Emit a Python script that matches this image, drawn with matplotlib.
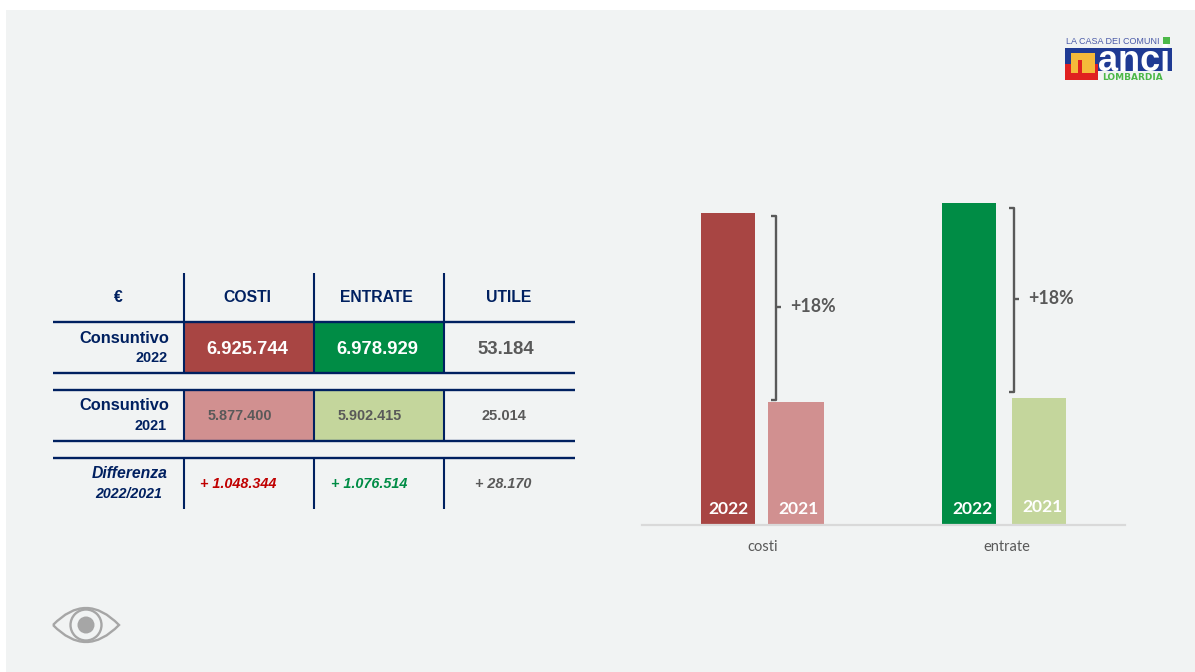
import matplotlib
matplotlib.use("Agg")
import matplotlib.pyplot as plt
from matplotlib.patches import Rectangle, Circle, PathPatch
from matplotlib.path import Path

# dati
categorie = ['costi', 'entrate']
anni = ['2022', '2021']
costi = [6925744, 5877400]
entrate = [6978929, 5902415]
variazioni = ['+18%', '+18%']

intestazioni = ['€', 'COSTI', 'ENTRATE', 'UTILE']
righe_1 = ['Consuntivo', 'Consuntivo', 'Differenza']
righe_2 = ['2022', '2021', '2022/2021']
val_costi = ['6.925.744', '5.877.400', '+ 1.048.344']
val_entrate = ['6.978.929', '5.902.415', '+ 1.076.514']
val_utile = ['53.184', '25.014', '+ 28.170']

# colori
SFONDO = '#F1F3F3'
NAVY = '#002060'
GRIGIO = '#595959'
ROSSO = '#A84543'
ROSSO_L = '#D19090'
VERDE = '#008C45'
VERDE_L = '#C4D69C'
W, H = 1195, 672

plt.rcParams['font.family'] = ['Liberation Sans', 'DejaVu Sans']

fig = plt.figure(figsize=(W / 100, H / 100), dpi=100, facecolor='white')
fig.add_artist(Rectangle((6 / W, 0), 1 - 6 / W, 1 - 10 / H, transform=fig.transFigure,
                         facecolor=SFONDO, edgecolor='none', zorder=-1))

# --- grafico a barre, asse tagliato come nell'originale ---
ax = fig.add_axes([642 / W, 1 - 524.5 / H, (1125 - 642) / W, 324.5 / H], zorder=1)
ax.patch.set_alpha(0)
ax.set_xlim(642, 1125)
ax.set_ylim(5200700, 6997600)
ax.bar([728, 796], costi, width=[54, 56], color=[ROSSO, ROSSO_L])
ax.bar([969, 1039], entrate, width=[54, 54], color=[VERDE, VERDE_L])
for s in ['top', 'left', 'right']:
    ax.spines[s].set_visible(False)
ax.spines['bottom'].set_color('#D9D9D9')
ax.spines['bottom'].set_linewidth(1.6)
ax.set_yticks([])
ax.set_xticks([763, 1007])
ax.set_xticklabels(categorie, family='Lato', fontsize=10.5, color=GRIGIO)
ax.tick_params(axis='x', length=0, pad=11.5)

# --- livello in pixel per tabella e annotazioni ---
px = fig.add_axes([0, 0, 1, 1], zorder=2)
px.set_xlim(0, W)
px.set_ylim(H, 0)
px.axis('off')

# celle colorate
px.add_patch(Rectangle((184, 322), 130, 51, facecolor=ROSSO, edgecolor='none'))
px.add_patch(Rectangle((314, 322), 130, 51, facecolor=VERDE, edgecolor='none'))
px.add_patch(Rectangle((184, 390), 130, 51, facecolor=ROSSO_L, edgecolor='none'))
px.add_patch(Rectangle((314, 390), 130, 51, facecolor=VERDE_L, edgecolor='none'))

# griglia della tabella
for y in [321.5, 373, 389.5, 441, 457.5]:
    px.plot([53, 575], [y, y], color=NAVY, lw=1.7, solid_capstyle='butt')
for x in [184, 314, 444.5]:
    for y0, y1 in [(273, 373), (389.5, 441), (457.5, 509)]:
        px.plot([x, x], [y0, y1], color=NAVY, lw=1.5, solid_capstyle='butt')

# intestazioni
for x, t in zip([118, 247.5, 376, 509], intestazioni):
    px.text(x, 297.5, t, ha='center', va='center', fontsize=11.3, fontweight='bold', color=NAVY)

# prima colonna
px.text(169.5, 338.5, righe_1[0], ha='right', va='center', fontsize=11.8, fontweight='bold', color=NAVY)
px.text(167.5, 357.5, righe_2[0], ha='right', va='center', fontsize=10.4, fontweight='bold', color=NAVY)
px.text(169.5, 405.5, righe_1[1], ha='right', va='center', fontsize=11.8, fontweight='bold', color=NAVY)
px.text(167, 425.5, righe_2[1], ha='right', va='center', fontsize=10.4, fontweight='bold', color=NAVY)
px.text(168, 473.5, righe_1[2], ha='right', va='center', fontsize=11.3, fontweight='bold',
        style='italic', color=NAVY)
px.text(162, 494, righe_2[2], ha='right', va='center', fontsize=10.2, fontweight='bold',
        style='italic', color=NAVY)

# valori
px.text(247, 349.5, val_costi[0], ha='center', va='center', fontsize=13.3, fontweight='bold', color='white')
px.text(377, 349.5, val_entrate[0], ha='center', va='center', fontsize=13.3, fontweight='bold', color='white')
px.text(506, 349.5, val_utile[0], ha='center', va='center', fontsize=13.3, fontweight='bold', color=GRIGIO)
px.text(239.5, 416, val_costi[1], ha='center', va='center', fontsize=10.4, fontweight='bold', color=GRIGIO)
px.text(370, 416, val_entrate[1], ha='center', va='center', fontsize=10.4, fontweight='bold', color=GRIGIO)
px.text(503.5, 416, val_utile[1], ha='center', va='center', fontsize=10.5, fontweight='bold', color=GRIGIO)
px.text(238.5, 483.5, val_costi[2], ha='center', va='center', fontsize=10.4, fontweight='bold',
        style='italic', color='#C00000')
px.text(369, 483.5, val_entrate[2], ha='center', va='center', fontsize=10.4, fontweight='bold',
        style='italic', color=VERDE)
px.text(503, 483.5, val_utile[2], ha='center', va='center', fontsize=10.4, fontweight='bold',
        style='italic', color=GRIGIO)

# etichette dentro le barre
for x, y, t in [(728.5, 509.5, anni[0]), (798.5, 509.5, anni[1]), (972.5, 509.5, anni[0]), (1042.5, 507.5, anni[1])]:
    px.text(x, y, t, ha='center', va='center', family='Lato', fontsize=12.6, fontweight='bold', color='white')

# parentesi +18%
for x, y0, y1, ym, xt, testo in [(776, 216, 400, 307, 790.5, variazioni[0]),
                                 (1014, 208, 392, 299, 1028, variazioni[1])]:
    px.plot([x - 5, x, x, x - 5], [y0, y0, y1, y1], color=GRIGIO, lw=1.7,
            solid_joinstyle='round', solid_capstyle='butt')
    px.plot([x, x + 5], [ym, ym], color=GRIGIO, lw=1.7, solid_capstyle='butt')
    px.text(xt, ym - 0.5, testo, ha='left', va='center', family='Lato', fontsize=12.8,
            fontweight='bold', color=GRIGIO)

# occhio in basso a sinistra
OCCHIO = '#A6A6A6'
lid = Path([(53, 625), (86, 591), (119, 625), (86, 659), (53, 625)],
           [Path.MOVETO, Path.CURVE3, Path.CURVE3, Path.CURVE3, Path.CURVE3])
px.add_patch(PathPatch(lid, facecolor='none', edgecolor=OCCHIO, lw=1.7))
px.add_patch(Circle((86, 625), 15.5, facecolor='none', edgecolor=OCCHIO, lw=1.7))
px.add_patch(Circle((86, 625), 8.5, facecolor=OCCHIO, edgecolor='none'))

# logo
BLU = '#1F3A93'
px.add_patch(Rectangle((1065, 48), 107, 23, facecolor=BLU, edgecolor='none'))
px.add_patch(Rectangle((1065, 64), 33, 16, facecolor='#E02020', edgecolor='none'))
px.add_patch(Rectangle((1071, 53), 24, 20, facecolor='#F5B93A', edgecolor='none'))
px.add_patch(Rectangle((1078, 60), 4, 13, facecolor='#E02020', edgecolor='none'))
px.add_patch(Rectangle((1163, 37), 7, 7, facecolor='#4CB848', edgecolor='none'))
px.text(1066, 41, 'LA CASA DEI COMUNI', ha='left', va='center', fontsize=6.5, color='#4A5AA8')
px.text(1134, 71, 'anci', ha='center', va='baseline', fontsize=26, fontweight='bold', color='white')
px.text(1133, 77.5, 'LOMBARDIA', ha='center', va='center', family='DejaVu Sans', fontsize=6.5,
        fontweight='bold', color='#4CB848')

fig.savefig('out.png', dpi=100, facecolor=fig.get_facecolor())
